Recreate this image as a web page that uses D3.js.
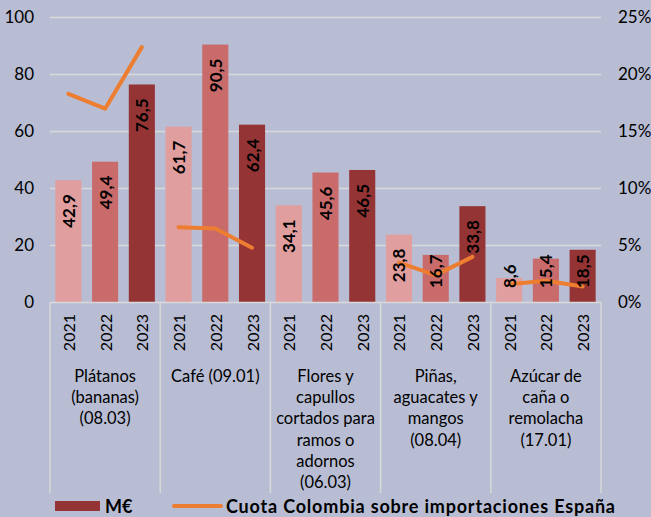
<!DOCTYPE html>
<html>
<head>
<meta charset="utf-8">
<script src="https://cdn.jsdelivr.net/npm/d3@7"></script>
<style>
  html, body { margin: 0; padding: 0; background: #B8BDD3; }
  svg { display: block; }
  text { font-family: Lato, "Open Sans", sans-serif; fill: #000; }
</style>
</head>
<body>
<svg id="chart" width="651" height="517"></svg>
<script>
// ---- Data ----
const categories = ["Plátanos (bananas) (08.03)", "Café (09.01)", "Flores y capullos cortados para ramos o adornos (06.03)", "Piñas, aguacates y mangos (08.04)", "Azúcar de caña o remolacha (17.01)"];
const categoryLines = [
  ["Plátanos", "(bananas)", "(08.03)"],
  ["Café (09.01)"],
  ["Flores y", "capullos", "cortados para", "ramos o", "adornos", "(06.03)"],
  ["Piñas,", "aguacates y", "mangos", "(08.04)"],
  ["Azúcar de", "caña o", "remolacha", "(17.01)"]
];
const years = ["2021", "2022", "2023"];
const valuesMEUR = [
  [42.9, 49.4, 76.5],
  [61.7, 90.5, 62.4],
  [34.1, 45.6, 46.5],
  [23.8, 16.7, 33.8],
  [8.6, 15.4, 18.5]
];
const cuotaColombia = [
  [18.3, 17.0, 22.4],
  [6.6, 6.5, 4.8],
  [null, null, null],
  [3.5, 2.4, 4.0],
  [1.6, 1.9, 1.4]
];
const leftTicks = [0, 20, 40, 60, 80, 100];
const rightTicks = [0, 5, 10, 15, 20, 25];
const legendLabels = ["M€", "Cuota Colombia sobre importaciones España"];

// ---- Layout ----
const svg = d3.select("#chart");
const plot = { left: 50, right: 601, top: 17.5, bottom: 302.5 };
const yearColors = { "2021": "#E09E9E", "2022": "#C96B6B", "2023": "#943434" };
const labelColors = { "2021": "#000", "2022": "#000", "2023": "#fff" };

const x0 = d3.scaleBand().domain(categories).range([plot.left, plot.right]).padding(0);
const x1 = d3.scaleBand().domain(years).range([0, x0.bandwidth()]).paddingInner(0.29).paddingOuter(0.145);
const y = d3.scaleLinear().domain([0, 100]).range([plot.bottom, plot.top]);
const y2 = d3.scaleLinear().domain([0, 25]).range([plot.bottom, plot.top]);

// gridlines
svg.append("g").selectAll("line").data(leftTicks.filter(d => d > 0)).join("line")
  .attr("x1", plot.left).attr("x2", plot.right)
  .attr("y1", d => y(d)).attr("y2", d => y(d))
  .attr("stroke", "#D9D9D9").attr("stroke-width", 1.5);

// left axis labels
const yAxis = d3.axisLeft(y).tickValues(leftTicks).tickSize(0).tickPadding(16);
const gy = svg.append("g").attr("transform", `translate(${plot.left},0)`).call(yAxis);
gy.select(".domain").remove();
gy.selectAll("text").style("font-size", "17px").style("font-family", "Lato, sans-serif").attr("fill", "#000");

// right axis labels
const y2Axis = d3.axisRight(y2).tickValues(rightTicks).tickSize(0).tickPadding(17).tickFormat(d => d + "%");
const gy2 = svg.append("g").attr("transform", `translate(${plot.right},0)`).call(y2Axis);
gy2.select(".domain").remove();
gy2.selectAll("text").style("font-size", "17px").style("font-family", "Lato, sans-serif").attr("fill", "#000");

// flat data
const flat = [];
categories.forEach((c, i) => years.forEach((yr, j) => flat.push({ cat: c, ci: i, year: yr, v: valuesMEUR[i][j], p: cuotaColombia[i][j] })));

// bars
svg.append("g").selectAll("rect").data(flat).join("rect")
  .attr("x", d => x0(d.cat) + x1(d.year))
  .attr("width", x1.bandwidth())
  .attr("y", d => y(d.v))
  .attr("height", d => plot.bottom - y(d.v))
  .attr("fill", d => yearColors[d.year]);

// axis lines: baseline + group separators
const axisG = svg.append("g").attr("stroke", "#D9D9D9").attr("stroke-width", 1.5);
axisG.append("line").attr("x1", plot.left).attr("x2", plot.right).attr("y1", plot.bottom).attr("y2", plot.bottom);
const seps = categories.map(c => x0(c)).concat([plot.right]);
axisG.selectAll("line.sep").data(seps).join("line").attr("class", "sep")
  .attr("x1", d => d).attr("x2", d => d).attr("y1", plot.bottom).attr("y2", 493);

// line (cuota)
const line = d3.line()
  .defined(d => d.p !== null)
  .x(d => x0(d.cat) + x1(d.year) + x1.bandwidth() / 2)
  .y(d => y2(d.p));
categories.forEach((c, i) => {
  svg.append("path").datum(flat.filter(d => d.ci === i))
    .attr("d", line).attr("fill", "none")
    .attr("stroke", "#ED7D31").attr("stroke-width", 4)
    .attr("stroke-linejoin", "round").attr("stroke-linecap", "round");
});

// value labels
const fmt = v => d3.format(".1f")(v).replace(".", ",");
const lbl = svg.append("g").selectAll("text").data(flat).join("text")
  .text(d => fmt(d.v))
  .style("font-size", "17px").style("font-weight", "bold")
  .attr("fill", d => labelColors[d.year])
  .attr("text-anchor", "end")
  .attr("dominant-baseline", "central");
lbl.each(function(d) {
  const len = this.getComputedTextLength();
  const cx = x0(d.cat) + x1(d.year) + x1.bandwidth() / 2;
  const yEnd = Math.min(y(d.v) + 14, 288 - len);
  d3.select(this).attr("transform", `translate(${cx},${yEnd}) rotate(-90)`);
});

// year tick labels
svg.append("g").selectAll("text").data(flat).join("text")
  .text(d => d.year)
  .style("font-size", "16px")
  .attr("text-anchor", "end")
  .attr("dominant-baseline", "central")
  .attr("transform", d => `translate(${x0(d.cat) + x1(d.year) + x1.bandwidth() / 2},${314}) rotate(-90)`);

// category labels
categories.forEach((c, i) => {
  const t = svg.append("text")
    .attr("x", x0(c) + x0.bandwidth() / 2)
    .attr("y", 376)
    .attr("text-anchor", "middle")
    .attr("dominant-baseline", "central")
    .style("font-size", "16.5px");
  categoryLines[i].forEach((ln, k) => {
    t.append("tspan").attr("x", x0(c) + x0.bandwidth() / 2).attr("y", 376 + k * 21.2).text(ln);
  });
});

// legend
const lg = svg.append("g");
lg.append("rect").attr("x", 55).attr("y", 501).attr("width", 45).attr("height", 10).attr("fill", yearColors["2023"]);
lg.append("text").attr("x", 105).attr("y", 506).attr("dominant-baseline", "central")
  .style("font-size", "18px").style("font-weight", "bold").text(legendLabels[0]);
lg.append("line").attr("x1", 174).attr("x2", 221).attr("y1", 506).attr("y2", 506)
  .attr("stroke", "#ED7D31").attr("stroke-width", 4).attr("stroke-linecap", "round");
lg.append("text").attr("x", 226).attr("y", 506).attr("dominant-baseline", "central")
  .attr("textLength", 389).attr("lengthAdjust", "spacing")
  .style("font-size", "18px").style("font-weight", "bold").text(legendLabels[1]);
</script>
</body>
</html>
